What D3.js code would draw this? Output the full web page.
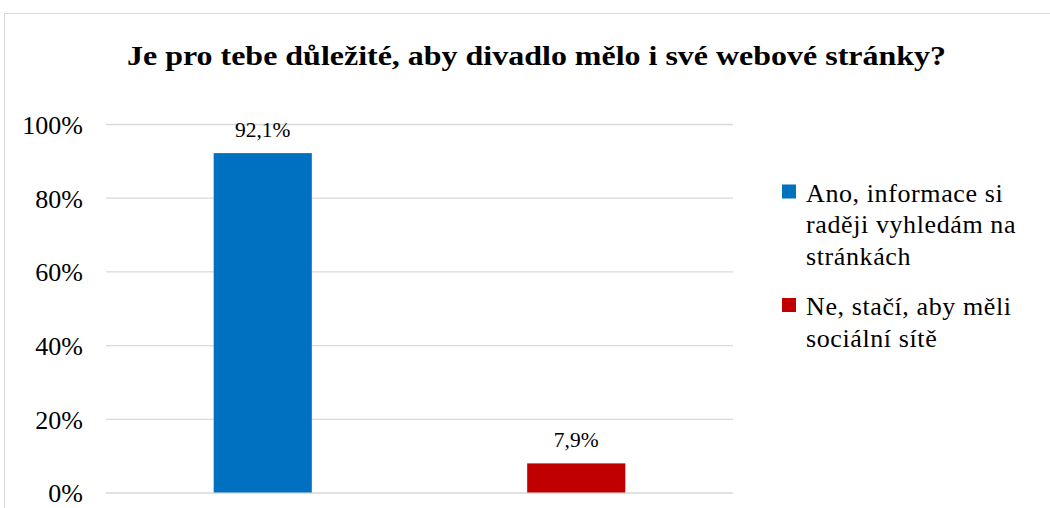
<!DOCTYPE html>
<html>
<head>
<meta charset="utf-8">
<script src="https://cdn.jsdelivr.net/npm/d3@7"></script>
<style>
  body { margin: 0; background: #fff; }
  text { font-family: "Liberation Serif", "Times New Roman", serif; }
</style>
</head>
<body>
<svg></svg>
<script>
//Setting
const width = 1050;
const height = 508;
const serif = "'Liberation Serif', 'Times New Roman', serif";

//Data
const title = "Je pro tebe důležité, aby divadlo mělo i své webové stránky?";
const categories = ["Ano, informace si raději vyhledám na stránkách", "Ne, stačí, aby měli sociální sítě"];
const values = [0.921, 0.079];
const colors = ["#0070C0", "#C00000"];
const legendLines = [["Ano, informace si", "raději vyhledám na", "stránkách"], ["Ne, stačí, aby měli", "sociální sítě"]];
const yTicks = [0, 0.2, 0.4, 0.6, 0.8, 1];

const plot = {left: 106, right: 733, top: 124, bottom: 492.5};

const cz = d3.formatLocale({decimal: ",", thousands: " ", grouping: [3], currency: ["", " Kč"]});
const fmtLabel = cz.format(".1%");
const fmtTick = cz.format(".0%");

const svg = d3.select("svg")
  .attr("width", width)
  .attr("height", height)
  .attr("font-family", serif);

// chart frame
svg.append("rect")
  .attr("x", 4.5).attr("y", 13.5)
  .attr("width", width + 10).attr("height", height + 10)
  .attr("fill", "#fff")
  .attr("stroke", "#d9d9d9")
  .attr("stroke-width", 1);

const x = d3.scaleBand()
  .domain(categories)
  .range([plot.left, plot.right])
  .paddingInner(0.687)
  .paddingOuter(0.3435);

const y = d3.scaleLinear()
  .domain([0, 1])
  .range([plot.bottom, plot.top]);

// gridlines + tick labels
const yAxis = svg.append("g")
  .attr("transform", `translate(${plot.left},0)`)
  .call(d3.axisLeft(y).tickValues(yTicks).tickFormat(fmtTick)
    .tickSize(-(plot.right - plot.left)).tickPadding(23));
yAxis.attr("font-family", serif).attr("font-size", 26);
yAxis.select(".domain").remove();
yAxis.selectAll(".tick line").attr("stroke", "#d9d9d9").attr("stroke-width", 1.3);
yAxis.selectAll(".tick text")
  .attr("fill", "#000")
  .attr("dy", "0.36em");

// bars
svg.append("g")
  .selectAll("rect")
  .data(values)
  .enter()
  .append("rect")
  .attr("x", (d, i) => x(categories[i]))
  .attr("y", d => y(d))
  .attr("width", x.bandwidth())
  .attr("height", d => y(0) - y(d))
  .attr("fill", (d, i) => colors[i]);

// value labels
svg.append("g")
  .selectAll("text")
  .data(values)
  .enter()
  .append("text")
  .attr("x", (d, i) => x(categories[i]) + x.bandwidth() / 2)
  .attr("y", d => y(d) - 16)
  .attr("text-anchor", "middle")
  .attr("font-family", serif)
  .attr("font-size", 21.5)
  .text(d => fmtLabel(d));

// title
svg.append("text")
  .attr("x", 536.5)
  .attr("y", 65)
  .attr("text-anchor", "middle")
  .attr("font-family", serif)
  .attr("font-size", 27)
  .attr("font-weight", "bold")
  .attr("textLength", 819)
  .attr("lengthAdjust", "spacingAndGlyphs")
  .text(title);

// legend
const legend = svg.append("g")
  .attr("id", "legend");
const legendTop = [201.5, 315];
legendLines.forEach((lines, i) => {
  const g = legend.append("g").attr("transform", `translate(782,${legendTop[i]})`);
  g.append("rect")
    .attr("x", 0).attr("y", -17)
    .attr("width", 14).attr("height", 14)
    .attr("fill", colors[i]);
  g.append("text")
    .attr("font-family", serif)
    .attr("font-size", 26)
    .attr("letter-spacing", 0.6)
    .selectAll("tspan")
    .data(lines)
    .enter()
    .append("tspan")
    .attr("x", 24)
    .attr("y", (d, j) => j * 31.5)
    .text(d => d);
});
</script>
</body>
</html>
